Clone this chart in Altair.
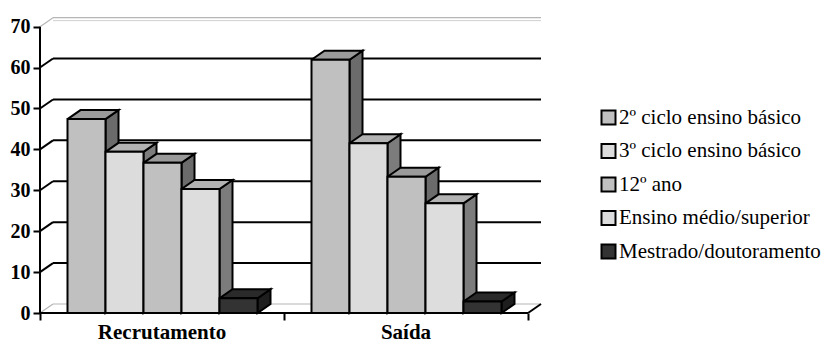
import altair as alt
import pandas as pd

# ---------------- data ----------------
categories = ["Recrutamento", "Saída"]
series = [
    "2º ciclo ensino básico",
    "3º ciclo ensino básico",
    "12º ano",
    "Ensino médio/superior",
    "Mestrado/doutoramento",
]
recrutamento = [47.4, 39.4, 36.7, 30.3, 3.6]
saida = [61.9, 41.5, 33.3, 26.8, 2.8]
y_ticks = [0, 10, 20, 30, 40, 50, 60, 70]

front_colors = ["#c0c0c0", "#dcdcdc", "#c0c0c0", "#dddddd", "#333333"]
top_colors = ["#9a9a9a", "#b2b2b2", "#9a9a9a", "#b2b2b2", "#2a2a2a"]
side_colors = ["#6b6b6b", "#7c7c7c", "#6b6b6b", "#7c7c7c", "#1e1e1e"]

# ---------------- layout (pseudo-3D) ----------------
GROUP = 244.0      # width of one category on the front floor
BAR = 38.0         # bar width
LEAD = 27.5        # gap before the first bar of a group
DX = 13.0          # depth in x units
DY = 2.2           # depth in value units
XMAX = 501.0
YMAX = 72.6
W, H = 501, 297
FONT = "Liberation Serif"

xs = alt.Scale(domain=[0, XMAX], nice=False, zero=False)
ys = alt.Scale(domain=[0, YMAX], nice=False, zero=False)

XA = alt.Axis(
    values=[0, GROUP, 2 * GROUP], labels=False, domain=False, grid=False,
    tickSize=7, tickWidth=2, tickColor="black", title=None,
)
YA = alt.Axis(
    values=y_ticks, domain=False, grid=False, tickSize=7, tickWidth=2, tickColor="black",
    labelFont=FONT, labelFontWeight="bold", labelFontSize=20, labelColor="black",
    labelPadding=3, title=None,
)


def X(field):
    return alt.X(field, scale=xs, axis=XA)


def Y(field):
    return alt.Y(field, scale=ys, axis=YA)


vals = {"Recrutamento": recrutamento, "Saída": saida}

fronts, faces = [], []
for ci, cat in enumerate(categories):
    for si, name in enumerate(series):
        v = vals[cat][si]
        x0 = ci * GROUP + LEAD + si * BAR
        x1 = x0 + BAR
        fronts.append(dict(cat=cat, series=name, s=si, x0=x0, x1=x1, v=v, base=0.0))
        top = [(x0, v), (x1, v), (x1 + DX, v + DY), (x0 + DX, v + DY), (x0, v)]
        side = [(x1, v), (x1 + DX, v + DY), (x1 + DX, DY), (x1, 0.0), (x1, v)]
        for face, pts in (("top", top), ("side", side)):
            for k, (px, py) in enumerate(pts):
                faces.append(dict(poly=f"{cat}-{si}-{face}", face=face, s=si, k=k, px=px, py=py))

fronts_df = pd.DataFrame(fronts)
faces_df = pd.DataFrame(faces)

grid_df = pd.DataFrame(
    [dict(v=t, gx0=DX, gx1=XMAX, gy=t + DY, fx=0.0, bx=DX, edge=(t in (0, 70))) for t in y_ticks]
)
cat_df = pd.DataFrame(dict(cat=categories, cx=[(i + 0.5) * GROUP for i in range(len(categories))]))
axis_df = pd.DataFrame(dict(x0=[0.0], x1=[len(categories) * GROUP], y0=[0.0], y1=[70.0],
                            bx=[len(categories) * GROUP + DX], by=[DY]))

# back wall grid lines (black inner ones, grey edges)
grid_black = alt.Chart(grid_df).transform_filter("!datum.edge").mark_rule(color="black", strokeWidth=2).encode(
    x=X("gx0:Q"), x2="gx1:Q", y=Y("gy:Q")
)
grid_grey = alt.Chart(grid_df).transform_filter("datum.edge").mark_rule(color="#b5b5b5", strokeWidth=1.2).encode(
    x=X("gx0:Q"), x2="gx1:Q", y=Y("gy:Q")
)
grid_grey2 = alt.Chart(grid_df).transform_filter("datum.v == 70").mark_rule(color="#cfcfcf", strokeWidth=1, yOffset=3).encode(
    x=X("gx0:Q"), x2="gx1:Q", y=Y("gy:Q")
)
# left wall diagonals
diag_black = alt.Chart(grid_df).transform_filter("!datum.edge").mark_rule(color="black", strokeWidth=2).encode(
    x=X("fx:Q"), x2="bx:Q", y=Y("v:Q"), y2="gy:Q"
)
diag_grey = alt.Chart(grid_df).transform_filter("datum.edge").mark_rule(color="#b5b5b5", strokeWidth=1.2).encode(
    x=X("fx:Q"), x2="bx:Q", y=Y("v:Q"), y2="gy:Q"
)

layers = [grid_grey, grid_grey2, grid_black, diag_grey, diag_black]

# side faces then top faces
for face, cols in (("side", side_colors), ("top", top_colors)):
    for si in range(len(series)):
        layers.append(
            alt.Chart(faces_df)
            .transform_filter(f"datum.face == '{face}' && datum.s == {si}")
            .mark_line(fill=cols[si], stroke="black", strokeWidth=2, strokeJoin="miter")
            .encode(x=X("px:Q"), y=Y("py:Q"), detail="poly:N", order="k:Q")
        )

# front faces with legend
front = alt.Chart(fronts_df).mark_rect(stroke="black", strokeWidth=2).encode(
    x=X("x0:Q"),
    x2="x1:Q",
    y=Y("v:Q"),
    y2="base:Q",
    color=alt.Color(
        "series:N",
        scale=alt.Scale(domain=series, range=front_colors),
        legend=alt.Legend(
            title=None, orient="none", legendX=558, legendY=91, symbolType="square",
            symbolSize=196, symbolStrokeColor="black", symbolStrokeWidth=2, symbolOpacity=1,
            labelFont=FONT, labelFontSize=21, labelColor="black", labelOffset=0,
            rowPadding=10.5, padding=0, labelLimit=400,
        ),
    ),
)
layers.append(front)

# front axis lines
yline = alt.Chart(axis_df).mark_rule(color="black", strokeWidth=2).encode(
    x=X("x0:Q"), y=Y("y0:Q"), y2="y1:Q"
)
xline = alt.Chart(axis_df).mark_rule(color="black", strokeWidth=2).encode(
    x=X("x0:Q"), x2="x1:Q", y=Y("y0:Q")
)
rdiag = alt.Chart(axis_df).mark_rule(color="black", strokeWidth=2).encode(
    x=X("x1:Q"), x2="bx:Q", y=Y("y0:Q"), y2="by:Q"
)
labels = alt.Chart(cat_df).mark_text(
    font=FONT, fontWeight="bold", fontSize=21, color="black", baseline="middle", align="center"
).encode(x=X("cx:Q"), y=alt.value(H + 20), text="cat:N")

layers += [yline, xline, rdiag, labels]

chart = (
    alt.layer(*layers)
    .properties(
        width=W, height=H,
        autosize=alt.AutoSizeParams(type="none"),
        padding={"left": 40, "top": 16, "right": 826 - 40 - W, "bottom": 344 - 16 - H},
        background="white",
    )
    .configure_view(stroke=None)
)

chart.save("out.html", embed_options={"renderer": "svg", "actions": False})
